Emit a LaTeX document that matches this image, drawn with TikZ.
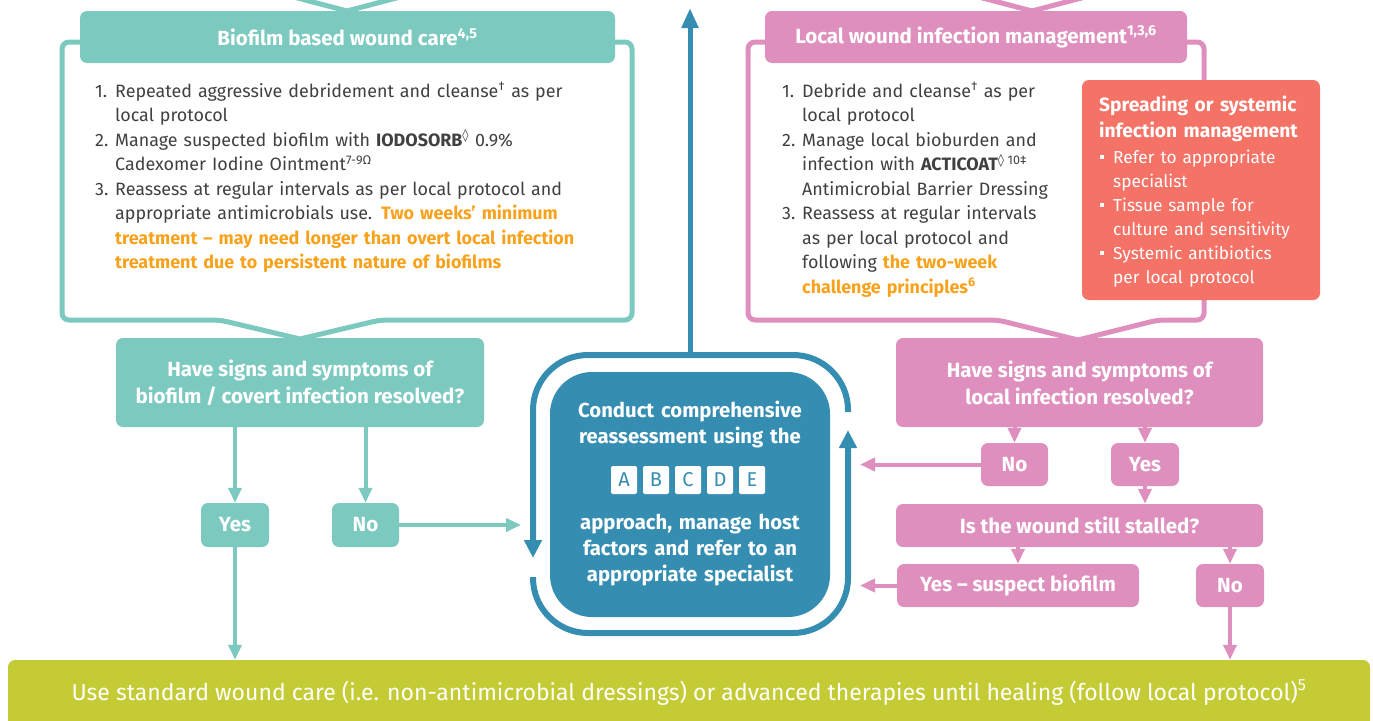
\documentclass[tikz,border=0pt]{standalone}
\usepackage{fontspec}
\setmainfont{Fira Sans}
\newfontfamily\djv{DejaVu Sans}
\usetikzlibrary{arrows.meta}
\definecolor{cTeal}{HTML}{7BC9BF}
\definecolor{cPink}{HTML}{DE8FBD}
\definecolor{cBlue}{HTML}{358EB1}
\definecolor{cCoral}{HTML}{F47266}
\definecolor{cGreen}{HTML}{C4CB34}
\definecolor{cOrange}{HTML}{F8A21C}
\definecolor{cText}{HTML}{404040}
\newcommand\hdfont{\bfseries\fontsize{20.5}{27}\selectfont}
\newcommand\lstfont{\fontsize{17.9}{24.5}\selectfont}
\newcommand\numit[1]{\leavevmode\llap{\makebox[20pt][l]{#1}}}
\newcommand\bulit{\leavevmode\llap{\makebox[13pt][l]{\raisebox{4pt}{\rule{4pt}{4pt}}}}}
\tikzset{
  boxbase/.style={rounded corners=7pt, inner sep=0pt, text=white, align=center, font=\hdfont},
  tbox/.style={boxbase, fill=cTeal},
  pbox/.style={boxbase, fill=cPink},
  tframe/.style={draw=cTeal, line width=5pt, line join=round},
  pframe/.style={draw=cPink, line width=5pt, line join=round},
  conT/.style={draw=cTeal, line width=4pt, -{Triangle[length=15pt,width=13pt]}},
  conP/.style={draw=cPink, line width=4pt, -{Triangle[length=15pt,width=13pt]}},
  ringline/.style={draw=cBlue, line width=6pt, -{Triangle[length=18pt,width=17pt]}},
  lsttxt/.style={inner sep=0pt, anchor=base west, align=left, text=cText, font=\lstfont},
  abc/.style={fill=white, rounded corners=2pt, minimum width=26pt, minimum height=28pt, inner sep=0pt, text=cBlue, font=\fontsize{20}{20}\selectfont},
  ctxt/.style={inner sep=0pt, anchor=base, text width=320pt, align=center, text=white, font=\bfseries\fontsize{20.3}{26.3}\selectfont}
}
\begin{document}
\begin{tikzpicture}[x=1pt,y=-1pt]
\useasboundingbox (0,0) rectangle (1373,720);
\clip (0,0) rectangle (1373,720);

% ---------- left (teal) frame ----------
\draw[tframe] (290,-4) -- (347,11) -- (404,-4);
\draw[tframe, rounded corners=7pt] (300,339) -- (220,320) -- (62,320) -- (62,42) -- (632,42) -- (632,320) -- (380,320) [sharp corners] -- cycle;
\node[tbox, minimum width=535pt, minimum height=52pt] (lhead) at (347.5,37) {Biofilm based wound care\textsuperscript{4,5}};
\node[lsttxt, text width=530pt] (llist) at (95,97) {\leftskip=20pt
\numit{1.}Repeated aggressive debridement and cleanse\textsuperscript{†} as per\\
local protocol\par
\numit{2.}Manage suspected biofilm with \textbf{IODOSORB}\textsuperscript{\djv ◊} 0.9\%\\
Cadexomer Iodine Ointment\textsuperscript{7-9Ω}\par
\numit{3.}Reassess at regular intervals as per local protocol and\\
appropriate antimicrobials use. {\color{cOrange}\bfseries Two weeks’ minimum\\
treatment – may need longer than overt local infection\\
treatment due to persistent nature of biofilms}\par};

% ---------- right (pink) frame ----------
\draw[pframe] (975,-4) -- (1032,11) -- (1089,-4);
\draw[pframe, rounded corners=7pt] (1078,340) -- (998,320) -- (748,320) -- (748,42) -- (1204,42) -- (1204,320) -- (1158,320) [sharp corners] -- cycle;
\node[pbox, minimum width=422pt, minimum height=52pt] (rhead) at (976,37) {Local wound infection management\textsuperscript{1,3,6}};
\node[lsttxt, text width=300pt] (rlist) at (782,97) {\leftskip=20pt
\numit{1.}Debride and cleanse\textsuperscript{†} as per\\
local protocol\par
\numit{2.}Manage local bioburden and\\
infection with \textbf{ACTICOAT}\textsuperscript{\djv ◊}\,\textsuperscript{10‡}\\
Antimicrobial Barrier Dressing\par
\numit{3.}Reassess at regular intervals\\
as per local protocol and\\
following {\color{cOrange}\bfseries the two-week\\
challenge principles\textsuperscript{6}}\par};

% coral box
\node[fill=cCoral, rounded corners=7pt, minimum width=238pt, minimum height=220pt, inner sep=0pt] (coral) at (1201,190) {};
\node[inner sep=0pt, anchor=base west, text width=225pt, align=left, text=white, font=\bfseries\fontsize{19.2}{26}\selectfont] (coralhead) at (1099,111) {Spreading or systemic\\infection management};
\node[inner sep=0pt, anchor=base west, text width=220pt, align=left, text=white, font=\lstfont] (corallist) at (1100,163) {\fontsize{17.3}{24}\selectfont\leftskip=13pt
\bulit Refer to appropriate\\specialist\par
\bulit Tissue sample for\\culture and sensitivity\par
\bulit Systemic antibiotics\\per local protocol\par};

% ---------- teal decision path ----------
\node[tbox, minimum width=368pt, minimum height=89pt] (lq) at (300,382.5) {Have signs and symptoms of\\biofilm / covert infection resolved?};
\node[tbox, minimum width=68pt, minimum height=44pt] (lyes) at (235,525) {Yes};
\node[tbox, minimum width=67pt, minimum height=44pt] (lno) at (365.5,525) {No};

% ---------- pink decision path ----------
\node[pbox, minimum width=367pt, minimum height=89pt] (pq) at (1079.5,382.5) {Have signs and symptoms of\\local infection resolved?};
\node[pbox, minimum width=67pt, minimum height=43pt] (pno) at (1014.5,464.5) {No};
\node[pbox, minimum width=68pt, minimum height=43pt] (pyes) at (1145,464.5) {Yes};
\node[pbox, minimum width=367pt, minimum height=43pt] (stall) at (1079.5,525.5) {Is the wound still stalled?};
\node[pbox, minimum width=242pt, minimum height=43pt] (ysb) at (1018,585.5) {Yes – suspect biofilm};
\node[pbox, minimum width=68pt, minimum height=43pt] (pno2) at (1230,585.5) {No};

% ---------- green bottom ----------
\node[fill=cGreen, rounded corners=7pt, minimum width=1362pt, minimum height=80pt, inner sep=0pt] (green) at (689,700) {};
\node[inner sep=0pt, anchor=base, text=white, font=\fontsize{23}{23}\selectfont] (greentxt) at (689,700) {Use standard wound care (i.e. non-antimicrobial dressings) or advanced therapies until healing (follow local protocol)\textsuperscript{5}};

% ---------- centre ----------
\node[fill=cBlue, rounded corners=42pt, minimum width=280pt, minimum height=245pt, inner sep=0pt] (reassess) at (690,494.5) {};
\node[minimum width=315pt, minimum height=278pt, inner sep=0pt] (ring) at (690.5,494) {};
\draw[ringline, rounded corners=55pt] (848,412) -- (848,355) -- (533,355) -- (533,558);
\draw[ringline, rounded corners=55pt] (533,577) -- (533,633) -- (848,633) -- (848,430);
\node[ctxt] (ct1) at (690,417) {Conduct comprehensive\\reassessment using the};
\node[abc] (bA) at (624,480) {A};
\node[abc] (bB) at (656,480) {B};
\node[abc] (bC) at (688,480) {C};
\node[abc] (bD) at (720,480) {D};
\node[abc] (bE) at (752,480) {E};
\node[ctxt] (ct2) at (690,529) {approach, manage host\\factors and refer to an\\appropriate specialist};

% ---------- connectors ----------
\coordinate (uptop) at (690,8);
\coordinate (lnoend) at (521,525);
\coordinate (pnoend) at (860,464.5);
\coordinate (ysbend) at (860,585.5);
\draw[draw=cBlue, line width=5pt, -{Triangle[length=20pt,width=16pt]}] (ring.north -| uptop) -- (uptop);
\draw[conT] (lq.south -| lyes) -- (lyes.north);
\draw[conT] (lq.south -| lno) -- (lno.north);
\draw[conT] (lyes.south) -- (lyes.south |- green.north);
\draw[conT] (lno.east) -- (lnoend);
\draw[conP] (pq.south -| pno) -- (pno.north);
\draw[conP] (pq.south -| pyes) -- (pyes.north);
\draw[conP] (pyes.south) -- (pyes.south |- stall.north);
\draw[conP] (stall.south -| ysb) -- (ysb.north);
\draw[conP] (stall.south -| pno2) -- (pno2.north);
\draw[conP] (pno2.south) -- (pno2.south |- green.north);
\draw[conP] (pno.west) -- (pnoend);
\draw[conP] (ysb.west) -- (ysbend);
\end{tikzpicture}
\end{document}
